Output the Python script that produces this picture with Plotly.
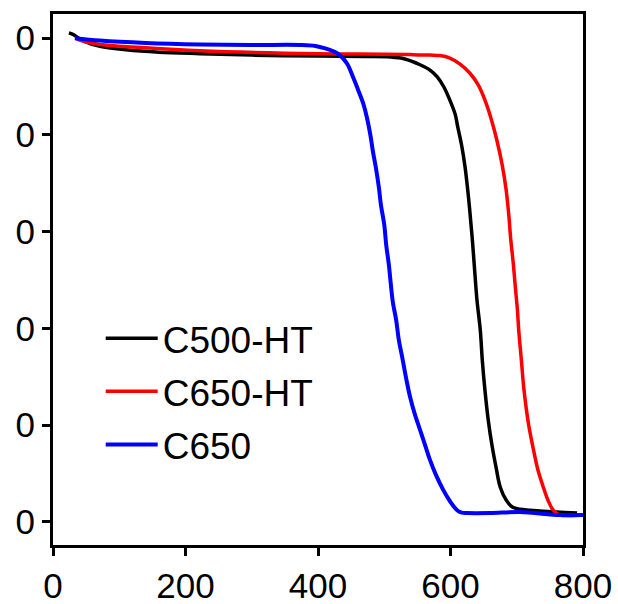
import plotly.graph_objects as go

# C500-HT (black)
c500ht_x = [24, 30, 45, 71, 110, 160, 222, 300, 400, 470, 509, 531, 554, 569, 580, 590, 599, 607, 611, 617, 622, 626, 629, 633, 637, 640, 645, 648, 652, 657, 663, 669, 675, 684, 694, 705, 720, 760, 791]
c500ht_y = [101.1, 100.8, 99.5, 98.3, 97.6, 97.1, 96.8, 96.5, 96.3, 96.2, 96.1, 95.7, 94.5, 93.4, 92.0, 89.9, 87.2, 84.3, 81.6, 77.7, 73.3, 68.6, 64.5, 58.3, 51.0, 45.8, 39.6, 33.4, 27.2, 21.0, 15.5, 11.1, 7.2, 4.5, 3.0, 2.6, 2.4, 2.0, 1.8]

# C650-HT (red)
c650ht_x = [36, 50, 71, 140, 222, 400, 500, 540, 569, 584, 599, 614, 629, 642, 652, 661, 670, 678, 684, 688, 691, 695, 698, 701, 703, 707, 711, 718, 726, 732, 740, 747, 755, 765, 780, 800]
c650ht_y = [99.8, 99.2, 98.7, 98.0, 97.4, 96.8, 96.7, 96.6, 96.5, 96.4, 95.9, 94.7, 92.8, 90.3, 87.2, 83.5, 78.9, 73.8, 68.6, 63.4, 58.3, 53.1, 48.3, 43.8, 39.6, 33.4, 27.2, 20.0, 14.4, 10.7, 7.2, 4.5, 2.4, 1.4, 1.3, 1.4]

# C650 (blue)
c650_x = [33, 71, 140, 222, 300, 373, 396, 411, 423, 433, 444, 453, 460, 468, 474, 479, 483, 488, 492, 495, 500, 503, 507, 510, 513, 518, 522, 527, 533, 539, 546, 554, 562, 569, 578, 589, 599, 610, 617, 625, 660, 705, 765, 800]
c650_y = [100.0, 99.5, 99.0, 98.7, 98.6, 98.6, 98.4, 97.9, 97.3, 96.5, 94.7, 91.9, 89.5, 86.6, 83.5, 80.0, 76.5, 72.7, 69.0, 65.5, 61.4, 57.2, 53.1, 49.0, 45.4, 41.7, 37.6, 34.1, 29.7, 25.8, 22.3, 19.0, 15.7, 12.8, 9.7, 6.6, 4.3, 2.4, 1.9, 1.8, 1.8, 2.0, 1.4, 1.4]

x_ticks = [0, 200, 400, 600, 800]
y_ticks = [0, 20, 40, 60, 80, 100]
y_ticktext = ["0", "0", "0", "0", "0", "0"]

series = [
    ("C500-HT", c500ht_x, c500ht_y, "#000000", 3.5),
    ("C650-HT", c650ht_x, c650ht_y, "#ff0000", 3.5),
    ("C650", c650_x, c650_y, "#0000ff", 4),
]

fig = go.Figure()
for name, xs, ys, color, w in series:
    fig.add_trace(go.Scatter(x=xs, y=ys, mode="lines", name=name, legendgroup=name,
                             line=dict(color=color, width=w, shape="spline", smoothing=1.0)))

font_family = "Liberation Sans, Arial, sans-serif"
fig.update_layout(
    width=618, height=604,
    margin=dict(l=53, r=35, t=14, b=59, autoexpand=False),
    paper_bgcolor="white", plot_bgcolor="white",
    font=dict(family=font_family, size=35, color="black"),
    showlegend=True,
    legend=dict(x=0.09, y=0.447, xanchor="left", yanchor="top",
                font=dict(size=37, family=font_family, color="black"),
                bgcolor="rgba(0,0,0,0)", itemwidth=52, tracegroupgap=2),
)
fig.update_xaxes(range=[0, 800], tickvals=x_ticks, showgrid=False, zeroline=False,
                 showline=True, linecolor="black", linewidth=3, mirror=True,
                 ticks="outside", ticklen=8, tickwidth=3, tickcolor="black",
                 tickfont=dict(size=35))
fig.update_yaxes(range=[-4.8, 105], tickvals=y_ticks, ticktext=y_ticktext, showgrid=False,
                 zeroline=False, showline=True, linecolor="black", linewidth=3, mirror=True,
                 ticks="outside", ticklen=8, tickwidth=3, tickcolor="black",
                 tickfont=dict(size=35))

fig.write_html("out.html")
